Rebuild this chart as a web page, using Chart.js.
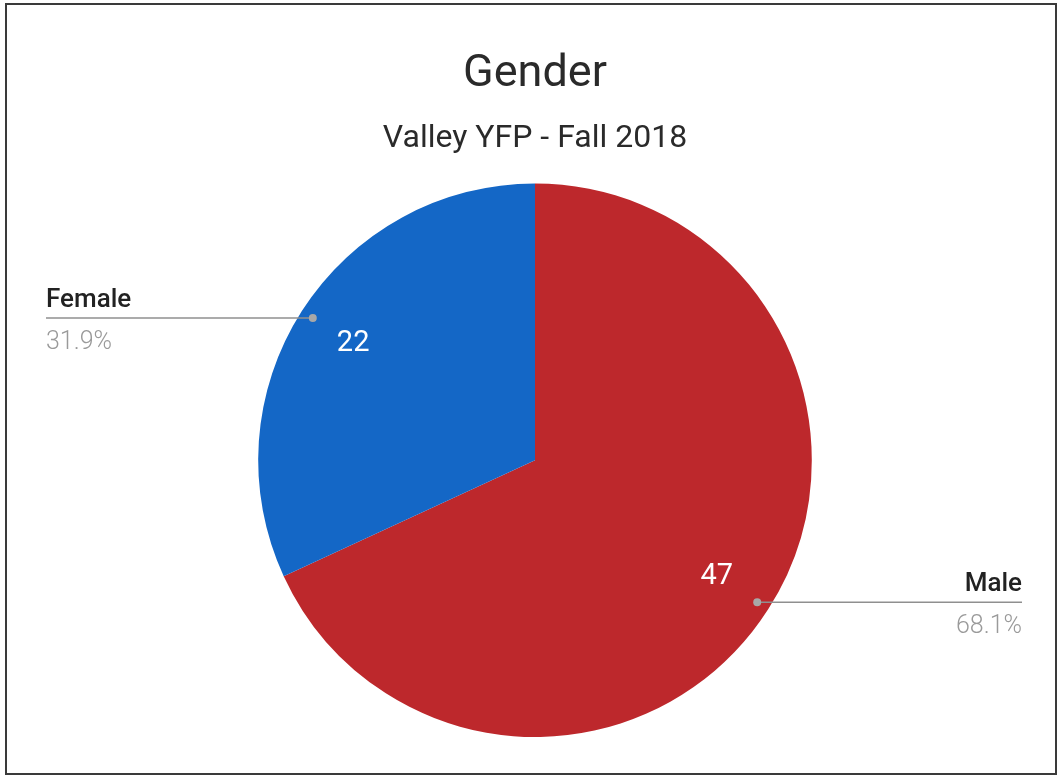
<!DOCTYPE html>
<html>
<head>
<meta charset="utf-8">
<script src="https://cdn.jsdelivr.net/npm/chart.js@4/dist/chart.umd.min.js"></script>
<style>
  body { margin: 0; background: #fff; }
  canvas { display: block; }
</style>
</head>
<body>
<canvas id="myChart" width="1063" height="776"></canvas>
<script>
var categorias = ['Male', 'Female'];
var cantidades = [47, 22];
var colores = ['#bd282c', '#1467c6'];

// fondo blanco + marco del escaneo
var marco = {
  id: 'marco',
  beforeDraw: function(chart){
    var ctx = chart.ctx;
    ctx.save();
    ctx.fillStyle = '#fff';
    ctx.fillRect(0, 0, chart.width, chart.height);
    ctx.strokeStyle = '#3a3a3a';
    ctx.lineWidth = 2;
    ctx.strokeRect(6, 4, 1050, 770);
    ctx.restore();
  }
};

// etiquetas afuera con linea guia, y valores adentro
var etiquetas = {
  id: 'etiquetas',
  afterDraw: function(chart){
    var ctx = chart.ctx;
    var meta = chart.getDatasetMeta(0);
    var total = cantidades.reduce(function(a, b){ return a + b; }, 0);
    ctx.save();
    meta.data.forEach(function(arc, i){
      var mid = (arc.startAngle + arc.endAngle) / 2;
      var r = arc.outerRadius;
      var cx = arc.x, cy = arc.y;
      // valor dentro
      ctx.fillStyle = '#fff';
      ctx.font = '29px Roboto';
      ctx.textAlign = 'center';
      ctx.textBaseline = 'middle';
      ctx.fillText(String(cantidades[i]), cx + Math.cos(mid) * r * 0.78, cy + Math.sin(mid) * r * 0.78);

      var px = cx + Math.cos(mid) * r * 0.953;
      var py = cy + Math.sin(mid) * r * 0.953;
      var derecha = Math.cos(mid) > 0;
      var xFin = derecha ? 1022 : 46;

      ctx.strokeStyle = '#8f8f8f';
      ctx.lineWidth = 1.5;
      ctx.beginPath();
      ctx.moveTo(px, py);
      ctx.lineTo(xFin, py);
      ctx.stroke();
      ctx.fillStyle = '#a8a8a8';
      ctx.beginPath();
      ctx.arc(px, py, 4, 0, Math.PI * 2);
      ctx.fill();

      ctx.textAlign = derecha ? 'right' : 'left';
      ctx.textBaseline = 'alphabetic';
      ctx.fillStyle = '#222';
      ctx.font = '500 26px Roboto';
      ctx.fillText(categorias[i], xFin, py - 11);
      ctx.fillStyle = '#9a9a9a';
      ctx.font = '300 25px Roboto';
      ctx.fillText((cantidades[i] / total * 100).toFixed(1) + '%', xFin, py + 31);
    });
    ctx.restore();
  }
};

const ctx = document.getElementById('myChart');
const myChart = new Chart(ctx, {
  type: 'pie',
  data: {
    labels: categorias,
    datasets: [{
      data: cantidades,
      backgroundColor: colores,
      borderWidth: 0
    }]
  },
  options: {
    responsive: false,
    animation: false,
    layout: { padding: { top: 0, left: 7, right: 0, bottom: 39 } },
    plugins: {
      legend: { display: false },
      tooltip: { enabled: false },
      title: {
        display: true,
        text: 'Gender',
        color: '#2a2a2a',
        font: { family: 'Roboto', size: 45, weight: 'normal', lineHeight: 1.2 },
        padding: { top: 48, bottom: 0 }
      },
      subtitle: {
        display: true,
        text: 'Valley YFP - Fall 2018',
        color: '#2a2a2a',
        font: { family: 'Roboto', size: 32, weight: 'normal', lineHeight: 1.2 },
        padding: { top: 18, bottom: 25 }
      }
    }
  },
  plugins: [marco, etiquetas]
});
</script>
</body>
</html>
